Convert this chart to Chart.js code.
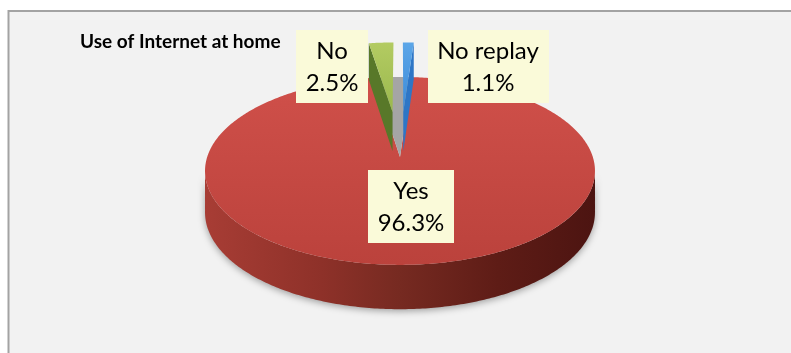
<!DOCTYPE html>
<html><head><meta charset="utf-8">
<script src="https://cdn.jsdelivr.net/npm/chart.js@4.4.1/dist/chart.umd.min.js"></script>
<style>html,body{margin:0;padding:0;background:#fff;overflow:hidden}canvas{display:block}</style>
</head><body>
<canvas id="c" width="791" height="353" style="width:791px;height:353px"></canvas>
<script>
// ---- data ----
const chartTitle = 'Use of Internet at home';
const categories = ['No replay', 'Yes', 'No'];
const percentages = [1.1, 96.3, 2.5];
const percentLabels = ['1.1%', '96.3%', '2.5%'];

// ---- styles ----
const topColors = [['#5CA6E8', '#3B8AD8'], ['#D0504A', '#BB423C'], ['#B3CB62', '#9AB84D']];
const wallColors = ['#2E76C6', '#8A2E26', '#587829'];
const notchColor = '#A5A5A5';
const explodeFrac = [0.53, 0, 0.53];
const labelOffsets = [[88, -90], [11, 50], [-68, -90]];
const TILT = 0.4767, PERSP = 0.149, DEPTH = 41;

const pie3d = {
  id: 'pie3d',
  beforeDraw(chart) {
    const ctx = chart.ctx;
    ctx.save();
    ctx.fillStyle = '#FFFFFF';
    ctx.fillRect(0, 0, chart.width, chart.height);
    ctx.fillStyle = '#F2F2F2';
    ctx.fillRect(8.5, 11, chart.width + 20, chart.height + 20);
    ctx.strokeStyle = '#A3A3A3';
    ctx.lineWidth = 2;
    ctx.strokeRect(8.5, 11, chart.width + 20, chart.height + 20);
    ctx.restore();
  },
  beforeDatasetsDraw(chart) {
    const ctx = chart.ctx;
    const arcs = chart.getDatasetMeta(0).data;
    const order = arcs.map((a, i) => i).sort((a, b) => explodeFrac[a] - explodeFrac[b]);
    const t0 = Math.asin(PERSP);
    let notchDone = false;
    for (const i of order) {
      const arc = arcs[i];
      const cx = arc.x, cy = arc.y, R = arc.outerRadius;
      const s = arc.startAngle, e = arc.endAngle, mid = (s + e) / 2;
      const ox = explodeFrac[i] * R * Math.cos(mid), oz = explodeFrac[i] * R * Math.sin(mid);
      const P = (X, Z, h) => {
        const z = Z / R, w = 1 / (1 - PERSP * z);
        const dep = h * DEPTH / (1 - 0.5 * PERSP * z);
        return [cx + X * w, cy + TILT * R * z * w + dep];
      };
      const rim = t => [ox + R * Math.cos(t), oz + R * Math.sin(t)];
      const steps = a => Math.max(2, Math.ceil(Math.abs(a) * 80));
      // inner walls seen through the gap left by exploded slices
      if (explodeFrac[i] > 0 && !notchDone) {
        notchDone = true;
        ctx.beginPath();
        const c = P(0, 0, 0);
        for (const k of arcs.map((a, j) => j).filter(j => explodeFrac[j] > 0)) {
          const a = arcs[k], m = steps(a.endAngle - a.startAngle);
          ctx.moveTo(c[0], c[1]);
          for (let j = 0; j <= m; j++) { const t = a.startAngle + (a.endAngle - a.startAngle) * j / m; const p = P(R * Math.cos(t), R * Math.sin(t), 0); ctx.lineTo(p[0], p[1]); }
          ctx.closePath();
        }
        ctx.fillStyle = notchColor; ctx.fill();
      }
      // outer side wall
      for (const k of [-1, 0, 1]) {
        const lo = Math.max(s + k * 2 * Math.PI, t0), hi = Math.min(e + k * 2 * Math.PI, Math.PI - t0);
        if (hi <= lo) continue;
        const n = steps(hi - lo);
        ctx.save();
        ctx.beginPath();
        for (let j = 0; j <= n; j++) { const t = lo + (hi - lo) * j / n; const r = rim(t); const p = P(r[0], r[1], 0); j ? ctx.lineTo(p[0], p[1]) : ctx.moveTo(p[0], p[1]); }
        for (let j = n; j >= 0; j--) { const t = lo + (hi - lo) * j / n; const r = rim(t); const p = P(r[0], r[1], 1); ctx.lineTo(p[0], p[1]); }
        ctx.closePath();
        const g = ctx.createLinearGradient(cx - R * 1.02, 0, cx + R * 1.02, 0);
        g.addColorStop(0, '#A83D35'); g.addColorStop(0.3, '#8E3129'); g.addColorStop(0.5, '#762A21');
        g.addColorStop(0.75, '#5E1C16'); g.addColorStop(1, '#4C1411');
        ctx.shadowColor = 'rgba(0,0,0,0.35)'; ctx.shadowBlur = 7; ctx.shadowOffsetY = 2;
        ctx.fillStyle = g;
        ctx.fill();
        ctx.restore();
      }
      // radial walls facing the viewer
      if (explodeFrac[i] > 0) {
        for (const [a, sign] of [[s, -1], [e, 1]]) {
          const nz = Math.cos(a) * sign;
          if (nz <= 1e-6) continue;
          const r = rim(a);
          const q = [P(ox, oz, 0), P(r[0], r[1], 0), P(r[0], r[1], 1), P(ox, oz, 1)];
          ctx.beginPath(); ctx.moveTo(q[0][0], q[0][1]);
          for (let j = 1; j < 4; j++) ctx.lineTo(q[j][0], q[j][1]);
          ctx.closePath(); ctx.fillStyle = wallColors[i]; ctx.fill();
        }
      }
      // top face
      const n = steps(e - s);
      ctx.beginPath();
      const c0 = P(ox, oz, 0); ctx.moveTo(c0[0], c0[1]);
      let yMin = Infinity, yMax = -Infinity;
      for (let j = 0; j <= n; j++) { const t = s + (e - s) * j / n; const r = rim(t); const p = P(r[0], r[1], 0); ctx.lineTo(p[0], p[1]); yMin = Math.min(yMin, p[1]); yMax = Math.max(yMax, p[1]); }
      ctx.closePath();
      yMin = Math.min(yMin, c0[1]); yMax = Math.max(yMax, c0[1]);
      const gt = ctx.createLinearGradient(0, yMin, 0, yMax);
      gt.addColorStop(0, topColors[i][0]); gt.addColorStop(1, topColors[i][1]);
      ctx.fillStyle = gt; ctx.fill();
    }
    // data labels
    ctx.save();
    ctx.font = '24px Lato';
    ctx.textAlign = 'center'; ctx.textBaseline = 'middle';
    arcs.forEach((arc, i) => {
      const lx = arc.x + labelOffsets[i][0], ly = arc.y + labelOffsets[i][1];
      const lines = [categories[i], percentLabels[i]];
      const w = Math.max(...lines.map(l => ctx.measureText(l).width)) + 19;
      const h = 73;
      ctx.fillStyle = '#FAFAD9';
      ctx.fillRect(Math.round(lx - w / 2), Math.round(ly - h / 2), Math.round(w), h);
      ctx.fillStyle = '#000';
      ctx.fillText(lines[0], lx, ly - 16);
      ctx.fillText(lines[1], lx, ly + 16);
    });
    ctx.restore();
    return false;
  }
};

new Chart(document.getElementById('c'), {
  type: 'pie',
  data: {
    labels: categories,
    datasets: [{ data: percentages, backgroundColor: topColors.map(c => c[0]), borderWidth: 0 }]
  },
  options: {
    responsive: false,
    animation: false,
    events: [],
    radius: 192.8,
    layout: { padding: { left: 80, right: 71, top: 30, bottom: 92 } },
    plugins: {
      legend: { display: false },
      tooltip: { enabled: false },
      title: {
        display: true, text: chartTitle, align: 'start', color: '#000',
        font: { family: 'Lato', weight: 'bold', size: 19, lineHeight: 1.2 },
        padding: { top: 0, bottom: 0 }
      }
    }
  },
  plugins: [pie3d]
});
</script>
</body></html>
